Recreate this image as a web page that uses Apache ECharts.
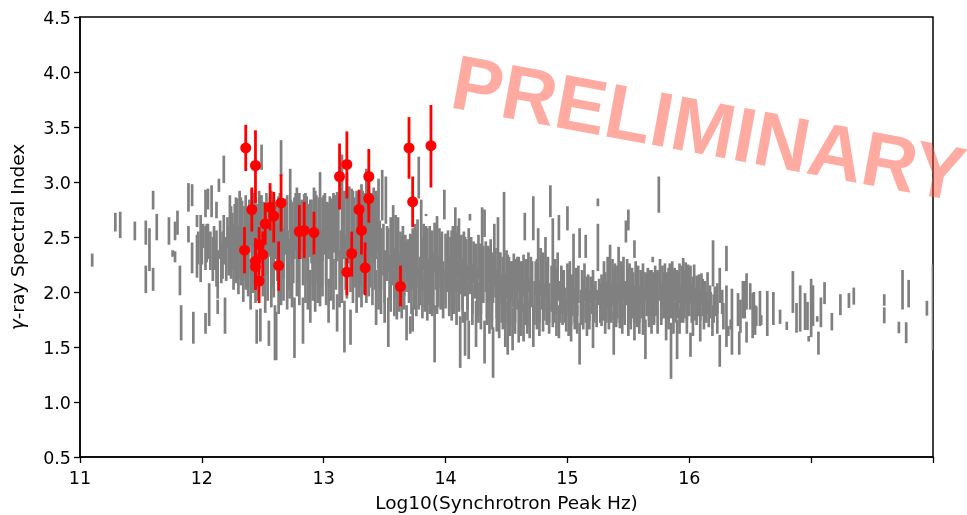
<!DOCTYPE html>
<html><head><meta charset="utf-8">
<style>html,body{margin:0;padding:0;background:#fff}#c{width:967px;height:515px}</style>
<script src="https://cdn.jsdelivr.net/npm/echarts@6/dist/echarts.min.js"></script>
</head><body><div id="c"></div>
<script>
const xTickLabels=['11','12','13','14','15','16','',''];
const xName='Log10(Synchrotron Peak Hz)';
const yName='{i|γ}-ray Spectral Index';
const watermark='PRELIMINARY';
// gray error bars: [log10 peak, index low, index high]
const grayLeft=[[11.10,2.23,2.35],[11.29,2.55,2.72],[11.33,2.49,2.73],[11.45,2.47,2.64],[11.54,2.43,2.65],[11.54,1.99,2.24],[11.57,2.19,2.58],[11.60,2.75,2.92],[11.60,2.01,2.22],[11.63,2.47,2.71],[11.73,2.43,2.68],[11.76,2.32,2.38],[11.78,2.27,2.37],[11.78,2.47,2.64],[11.80,2.52,2.74],[11.82,1.97,2.24],[11.83,1.56,1.88],[11.89,2.45,2.60],[11.89,2.73,2.99],[11.92,2.78,2.98],[11.93,1.53,1.82],[11.92,2.17,2.45],[11.96,2.59,2.70],[11.96,2.13,2.52],[11.99,2.09,2.70],[12.03,1.62,1.81],[12.03,2.68,2.93],[12.05,2.75,2.94],[12.08,2.68,2.97],[12.06,1.69,2.08],[12.12,2.67,2.82],[12.13,1.80,1.93],[12.14,2.91,3.03],[12.18,2.99,3.24],[12.19,1.62,1.95],[12.13,1.94,2.38],[12.00,2.25,2.50],[12.01,2.40,2.62],[12.03,2.20,2.60],[12.05,2.30,2.62],[12.07,2.20,2.55],[12.09,2.10,2.50],[12.10,2.35,2.60],[12.11,2.20,2.48],[12.15,2.30,2.65],[12.16,2.08,2.45],[12.18,2.25,2.70],[12.20,2.10,2.50],[12.21,2.40,2.68],[12.22,2.15,2.60],[11.97,2.25,2.55],[12.04,2.27,2.62],[12.12,2.05,2.56],[12.17,2.12,2.55]];
const grayUpperA=[[12.23,2.35,2.88],[12.25,2.25,2.72],[12.27,2.40,2.80],[12.29,2.30,2.85],[12.31,2.38,2.92],[12.33,2.28,2.83],[12.35,2.42,2.78],[12.37,2.30,2.75],[12.39,2.36,2.84],[12.41,2.25,2.93],[12.43,2.40,2.90],[12.45,2.32,2.80],[12.47,2.45,2.92],[12.49,3.11,3.34],[12.49,2.35,2.88],[12.51,2.28,2.82],[12.53,2.40,2.90],[12.55,2.32,2.78],[12.57,2.26,2.92],[12.59,2.38,2.85],[12.61,2.30,2.80],[12.63,2.34,2.87],[12.65,3.05,3.38],[12.66,2.30,2.83],[12.68,2.40,2.85],[12.70,2.28,2.88],[12.725,2.55,3.12],[12.74,2.35,2.82],[12.76,2.30,2.86],[12.78,2.42,2.95],[12.80,2.32,2.90],[12.82,2.36,2.84],[12.84,2.28,2.89],[12.86,2.40,2.87],[12.88,2.32,2.80],[12.90,2.26,2.84],[12.92,2.38,2.95],[12.94,2.30,2.88],[12.97,2.42,3.09],[12.99,2.28,2.86],[13.01,2.34,2.90],[13.03,2.30,2.82],[13.05,2.38,2.87],[13.07,2.25,2.85],[13.09,2.36,2.88],[13.11,2.28,2.91],[13.15,2.34,3.25],[13.17,2.30,2.92],[13.19,2.38,3.08],[13.21,2.26,2.96],[13.23,2.32,2.94],[13.25,2.40,2.86],[13.27,2.28,2.92],[13.29,2.36,2.88],[13.31,2.30,2.98],[13.33,2.25,2.90],[13.35,2.38,3.12],[13.37,2.28,2.94],[13.39,2.34,2.90],[13.41,2.26,2.95],[13.43,2.30,2.92],[13.45,2.22,3.03]];
const grayLowerA=[[12.24,2.12,2.45],[12.26,2.02,2.40],[12.28,2.08,2.50],[12.30,1.98,2.42],[12.32,2.06,2.48],[12.34,1.91,2.38],[12.36,2.02,2.50],[12.38,1.96,2.44],[12.40,1.84,2.30],[12.42,1.99,2.45],[12.44,1.90,2.42],[12.45,1.53,1.84],[12.48,1.55,1.85],[12.46,1.92,2.40],[12.50,1.96,2.48],[12.52,1.81,2.36],[12.55,1.51,1.74],[12.54,1.92,2.42],[12.57,1.86,2.46],[12.60,1.38,1.88],[12.61,1.38,1.82],[12.59,1.95,2.40],[12.63,1.80,2.34],[12.65,1.88,2.44],[12.67,1.92,2.42],[12.70,1.84,2.36],[12.72,1.94,2.48],[12.74,1.86,2.40],[12.76,1.40,1.95],[12.78,1.96,2.44],[12.80,1.88,2.36],[12.83,1.53,1.95],[12.85,1.90,2.44],[12.87,1.84,2.38],[12.89,1.72,2.20],[12.91,1.92,2.46],[12.93,1.82,2.34],[12.95,1.90,2.42],[12.97,1.87,2.38],[12.99,1.96,2.44],[13.02,1.88,2.36],[13.04,1.72,2.12],[13.06,1.92,2.42],[13.08,1.84,2.30],[13.11,1.64,1.98],[13.13,1.86,2.38],[13.15,1.90,2.42],[13.17,1.45,1.92],[13.19,1.94,2.36],[13.22,1.52,1.84],[13.24,1.90,2.40],[13.27,1.81,2.34],[13.29,1.95,2.38],[13.31,1.86,2.36],[13.33,1.98,2.42],[13.35,1.90,2.30],[13.37,1.96,2.40],[13.40,1.88,2.34],[13.43,1.70,2.20],[13.45,1.84,2.32]];
const grayFillA=[[12.24,2.30,2.78],[12.26,2.20,2.62],[12.28,2.38,2.86],[12.30,2.12,2.60],[12.32,2.34,2.86],[12.34,2.10,2.55],[12.36,2.40,2.88],[12.38,2.15,2.62],[12.40,2.42,2.82],[12.42,2.14,2.64],[12.44,2.36,2.86],[12.46,2.18,2.66],[12.48,2.40,2.88],[12.50,2.12,2.60],[12.52,2.38,2.80],[12.54,2.16,2.66],[12.56,2.36,2.86],[12.58,2.04,2.56],[12.60,2.32,2.82],[12.62,2.10,2.62],[12.64,2.36,2.90],[12.67,2.12,2.58],[12.69,2.34,2.80],[12.71,2.02,2.56],[12.73,2.34,2.84],[12.75,2.08,2.60],[12.77,2.38,2.90],[12.79,2.04,2.54],[12.81,2.30,2.82],[12.83,2.06,2.60],[12.85,2.36,2.90],[12.87,2.10,2.56],[12.89,2.32,2.84],[12.91,2.06,2.60],[12.93,2.40,2.92],[12.95,2.08,2.54],[12.96,2.30,2.86],[12.98,2.04,2.56],[13.00,2.36,2.88],[13.02,2.06,2.58],[13.04,2.30,2.80],[13.06,2.04,2.54],[13.08,2.36,2.90],[13.10,2.02,2.50],[13.12,2.32,2.86],[13.14,2.06,2.56],[13.16,2.30,2.84],[13.18,2.02,2.52],[13.20,2.34,2.90],[13.22,2.00,2.50],[13.24,2.36,2.92],[13.26,2.04,2.56],[13.28,2.30,2.84],[13.30,2.06,2.52],[13.32,2.34,2.92],[13.34,2.02,2.50],[13.36,2.30,2.88],[13.38,2.04,2.54],[13.40,2.32,2.86],[13.42,2.02,2.48],[13.44,2.36,2.88],[13.46,2.00,2.48]];
const grayUpperB=[[13.46,2.10,2.65],[13.48,2.65,3.11],[13.49,2.15,2.62],[13.51,2.62,3.05],[13.53,2.18,2.58],[13.55,2.10,2.68],[13.57,2.22,2.79],[13.59,2.12,2.70],[13.61,2.16,2.68],[13.63,2.20,2.55],[13.65,2.08,2.60],[13.67,2.18,2.52],[13.69,2.10,2.48],[13.71,2.14,2.53],[13.73,2.05,2.58],[13.75,2.18,2.62],[13.78,2.85,3.23],[13.77,2.12,2.66],[13.80,2.10,2.84],[13.82,2.20,2.62],[13.84,2.69,2.71],[13.85,2.08,2.58],[13.87,2.16,2.60],[13.89,2.10,2.56],[13.91,2.18,2.63],[13.93,2.05,2.69],[13.95,2.15,2.58],[13.97,2.10,2.55],[13.99,2.66,2.93],[14.00,2.08,2.53],[14.02,2.16,2.56],[14.04,2.04,2.50],[14.06,2.12,2.60],[14.08,2.05,2.77],[14.10,2.14,2.60],[14.11,2.08,2.67],[14.13,2.00,2.52],[14.15,2.12,2.55],[14.17,2.04,2.48],[14.20,2.65,2.71],[14.19,2.10,2.58],[14.21,2.02,2.50],[14.23,2.08,2.46],[14.25,2.00,2.44],[14.27,2.12,2.52],[14.30,2.05,2.77],[14.32,2.50,2.75],[14.33,2.00,2.46],[14.35,2.08,2.42],[14.37,1.98,2.48],[14.40,2.05,2.62],[14.41,1.95,2.40],[14.43,2.02,2.68],[14.45,1.96,2.36],[14.48,2.05,2.91],[14.50,1.94,2.38],[14.52,2.00,2.32],[14.54,1.92,2.28],[14.56,2.02,2.35],[14.58,1.95,2.30],[14.60,2.00,2.32],[14.62,1.90,2.28],[14.65,2.47,2.72],[14.64,1.96,2.34],[14.66,1.90,2.30],[14.68,2.00,2.36],[14.70,1.92,2.32],[14.72,2.47,2.87],[14.74,1.98,2.28],[14.76,1.90,2.58],[14.78,1.96,2.40],[14.80,1.88,2.36],[14.82,1.94,2.50],[14.84,1.90,2.32],[14.86,2.68,2.97],[14.88,1.94,2.67],[14.90,1.88,2.30],[14.93,2.47,2.70],[14.92,1.92,2.36],[14.95,1.85,2.24],[14.97,1.92,2.20],[15.00,2.56,2.78],[15.00,1.88,2.26],[15.02,1.94,2.28],[15.05,1.90,2.53],[15.07,1.86,2.22],[15.10,2.31,2.58],[15.09,1.90,2.24],[15.12,1.84,2.20],[15.15,2.31,2.52],[15.14,1.92,2.26],[15.17,1.86,2.16],[15.19,1.90,2.14],[15.21,1.84,2.20],[15.23,1.92,2.10],[15.25,2.78,2.85],[15.25,2.19,2.62],[15.26,1.88,2.12],[15.28,1.84,2.16],[15.30,1.90,2.28],[15.33,1.86,2.32],[15.35,1.92,2.43],[15.37,1.88,2.30],[15.39,1.84,2.26],[15.42,1.90,2.41],[15.44,1.86,2.28],[15.46,1.92,2.32],[15.48,2.45,2.65],[15.50,2.56,2.75],[15.49,1.88,2.30],[15.51,1.84,2.26],[15.53,1.90,2.22],[15.55,2.31,2.47],[15.56,1.86,2.28],[15.58,1.92,2.24],[15.60,1.88,2.20],[15.62,1.86,2.26],[15.64,1.92,2.18],[15.66,1.84,2.22],[15.68,1.90,2.20],[15.70,2.27,2.32],[15.70,1.86,2.18],[15.72,1.90,2.24],[15.75,2.72,3.05],[15.74,1.88,2.20],[15.76,1.92,2.30],[15.78,1.86,2.24],[15.80,1.90,2.26],[15.82,1.84,2.18],[15.84,1.90,2.26],[15.86,1.88,2.28],[15.88,1.92,2.22],[15.90,1.84,2.20],[15.92,1.90,2.26],[15.94,1.86,2.24],[15.95,1.92,2.31],[15.97,1.88,2.27],[15.99,1.84,2.25],[16.01,1.90,2.24],[16.04,1.86,2.25],[16.06,1.90,2.15],[16.08,1.80,2.16],[16.10,1.88,2.17],[16.13,1.84,2.10],[16.15,1.80,2.18],[16.175,1.88,2.00],[16.195,2.05,2.47],[16.21,1.78,2.05],[16.25,1.90,2.22],[16.27,1.80,2.02],[16.305,2.19,2.42],[16.305,1.50,2.06]];
const grayLowerB=[[13.47,1.80,2.20],[13.50,1.72,2.24],[13.53,1.50,1.95],[13.55,1.82,2.22],[13.58,1.78,2.16],[13.60,1.75,2.18],[13.62,1.82,2.25],[13.64,1.76,2.14],[13.66,1.84,2.20],[13.68,1.56,1.88],[13.71,1.62,1.78],[13.72,1.80,2.16],[13.73,1.64,1.86],[13.76,1.78,2.20],[13.78,1.84,2.22],[13.81,1.76,2.14],[13.83,1.82,2.18],[13.85,1.74,2.12],[13.87,1.80,2.16],[13.89,1.78,2.18],[13.91,1.36,1.88],[13.93,1.80,2.14],[13.96,1.84,2.18],[13.98,1.76,2.12],[14.00,1.85,2.20],[14.03,1.78,2.12],[14.05,1.74,2.08],[14.07,1.80,2.16],[14.09,1.70,2.10],[14.12,1.31,1.78],[14.14,1.72,2.12],[14.16,1.42,1.82],[14.18,1.74,2.08],[14.19,1.39,1.74],[14.22,1.70,2.06],[14.25,1.50,1.92],[14.27,1.72,2.08],[14.29,1.66,2.04],[14.32,1.35,1.74],[14.34,1.70,2.08],[14.36,1.62,2.02],[14.39,1.22,1.68],[14.38,1.66,2.04],[14.42,1.64,2.00],[14.44,1.58,1.98],[14.47,1.66,2.02],[14.49,1.50,1.92],[14.51,1.43,1.88],[14.53,1.60,1.98],[14.55,1.47,1.86],[14.57,1.62,1.96],[14.60,1.54,1.94],[14.62,1.60,1.92],[14.64,1.55,1.90],[14.67,1.62,1.96],[14.69,1.58,1.92],[14.72,1.50,1.88],[14.75,1.66,1.98],[14.77,1.60,1.92],[14.80,1.64,1.94],[14.83,1.70,1.98],[14.85,1.62,1.90],[14.88,1.68,1.94],[14.91,1.60,1.92],[14.93,1.58,1.88],[14.96,1.70,1.94],[14.99,1.64,1.92],[15.01,1.60,1.90],[15.03,1.55,1.86],[15.06,1.66,1.92],[15.08,1.62,1.88],[15.10,1.34,1.72],[15.13,1.66,1.90],[15.16,1.60,1.92],[15.18,1.66,1.88],[15.21,1.49,1.80],[15.24,1.68,1.90],[15.28,1.69,1.92],[15.31,1.62,1.90],[15.34,1.66,1.88],[15.38,1.43,1.82],[15.40,1.68,1.92],[15.43,1.67,1.90],[15.45,1.62,1.88],[15.47,1.70,1.92],[15.50,1.60,1.90],[15.52,1.66,1.88],[15.55,1.56,1.86],[15.57,1.68,1.92],[15.59,1.62,1.88],[15.62,1.61,1.90],[15.64,1.39,1.75],[15.67,1.68,1.92],[15.69,1.62,1.90],[15.71,1.70,1.92],[15.74,1.62,1.88],[15.77,1.70,1.92],[15.81,1.56,1.88],[15.83,1.66,1.92],[15.85,1.21,1.72],[15.87,1.62,1.90],[15.90,1.39,1.75],[15.92,1.62,1.86],[15.95,1.72,1.94],[15.98,1.62,1.92],[16.01,1.41,1.63],[16.03,1.60,1.90],[16.06,1.70,1.92],[16.09,1.55,1.86],[16.12,1.66,1.88],[16.16,1.68,1.92],[16.19,1.60,1.88],[16.23,1.62,1.90],[16.25,1.32,1.61],[16.28,1.66,1.90]];
const grayFillB=[[13.47,2.02,2.58],[13.50,1.90,2.38],[13.52,2.10,2.60],[13.54,1.92,2.34],[13.56,2.06,2.62],[13.58,1.94,2.40],[13.60,2.08,2.58],[13.62,1.90,2.36],[13.64,2.04,2.50],[13.66,1.96,2.42],[13.68,2.00,2.46],[13.70,1.90,2.32],[13.72,2.02,2.52],[13.74,1.84,2.30],[13.76,2.04,2.56],[13.79,1.88,2.32],[13.81,2.02,2.50],[13.83,1.86,2.34],[13.84,2.04,2.60],[13.86,1.88,2.30],[13.88,2.00,2.52],[13.90,1.84,2.36],[13.92,2.02,2.56],[13.94,1.86,2.32],[13.96,2.04,2.50],[13.98,1.90,2.28],[14.01,2.00,2.50],[14.03,1.84,2.34],[14.05,1.98,2.56],[14.07,1.86,2.30],[14.09,2.00,2.54],[14.11,1.82,2.24],[14.12,1.98,2.48],[14.14,1.84,2.30],[14.16,1.96,2.50],[14.18,1.84,2.24],[14.20,1.98,2.46],[14.22,1.80,2.26],[14.24,1.94,2.40],[14.26,1.78,2.22],[14.28,1.94,2.44],[14.29,1.80,2.28],[14.31,1.90,2.42],[14.34,1.76,2.22],[14.36,1.92,2.40],[14.38,1.74,2.18],[14.39,1.90,2.36],[14.42,1.76,2.20],[14.44,1.88,2.36],[14.46,1.72,2.16],[14.47,1.88,2.32],[14.49,1.72,2.16],[14.51,1.84,2.34],[14.53,1.70,2.12],[14.55,1.86,2.28],[14.57,1.72,2.14],[14.59,1.84,2.32],[14.61,1.68,2.10],[14.63,1.82,2.28],[14.65,1.70,2.12],[14.67,1.84,2.30],[14.69,1.68,2.12],[14.71,1.86,2.28],[14.73,1.70,2.10],[14.75,1.82,2.30],[14.77,1.72,2.10],[14.79,1.84,2.26],[14.81,1.74,2.08],[14.83,1.82,2.28],[14.85,1.72,2.08],[14.87,1.82,2.24],[14.89,1.72,2.06],[14.91,1.80,2.22],[14.94,1.72,2.10],[14.96,1.80,2.20],[14.98,1.72,2.04],[15.01,1.78,2.20],[15.03,1.70,2.02],[15.04,1.78,2.16],[15.06,1.72,2.04],[15.08,1.78,2.18],[15.11,1.70,2.02],[15.13,1.76,2.12],[15.15,1.72,2.04],[15.16,1.78,2.14],[15.18,1.74,2.02],[15.20,1.80,2.10],[15.22,1.72,2.06],[15.24,1.76,2.02],[15.27,1.72,2.08],[15.29,1.74,2.12],[15.31,1.78,2.18],[15.32,1.72,2.10],[15.34,1.76,2.22],[15.36,1.72,2.08],[15.38,1.74,2.20],[15.40,1.72,2.06],[15.41,1.76,2.24],[15.43,1.72,2.08],[15.45,1.78,2.24],[15.47,1.74,2.10],[15.50,1.76,2.22],[15.52,1.72,2.08],[15.54,1.76,2.18],[15.55,1.72,2.06],[15.57,1.78,2.22],[15.59,1.72,2.06],[15.61,1.76,2.18],[15.63,1.72,2.04],[15.65,1.78,2.16],[15.67,1.74,2.08],[15.69,1.78,2.20],[15.71,1.72,2.06],[15.73,1.78,2.18],[15.77,1.74,2.08],[15.79,1.76,2.18],[15.81,1.76,2.08],[15.83,1.74,2.22],[15.85,1.76,2.10],[15.87,1.74,2.20],[15.89,1.72,2.08],[15.91,1.76,2.18],[15.93,1.72,2.06],[15.96,1.76,2.20],[15.98,1.74,2.10],[16.00,1.78,2.22],[16.02,1.72,2.08],[16.03,1.80,2.14],[16.05,1.74,2.04],[16.07,1.78,2.10],[16.09,1.74,2.02],[16.11,1.78,2.12],[16.14,1.72,2.00],[16.17,1.76,2.06],[16.20,1.72,1.98],[16.23,1.80,2.08]];
const grayRight=[[16.32,1.60,1.69],[16.34,1.66,1.75],[16.35,1.43,2.03],[16.41,1.43,1.64],[16.40,1.69,1.99],[16.42,1.63,1.93],[16.44,1.76,2.10],[16.455,1.76,2.10],[16.47,1.54,1.73],[16.47,1.84,2.17],[16.50,1.84,2.08],[16.52,1.58,1.99],[16.53,1.77,2.00],[16.54,1.61,1.88],[16.58,1.69,2.01],[16.55,1.69,1.87],[16.59,1.70,1.79],[16.64,1.60,2.01],[16.69,1.70,2.00],[16.745,1.71,1.84],[16.80,1.655,1.73],[16.85,1.81,2.19],[16.88,1.63,1.90],[16.91,1.64,2.06],[16.95,1.655,1.99],[16.97,1.655,1.91],[16.98,1.55,1.60],[17.00,1.59,2.12],[17.015,1.69,2.06],[17.05,1.73,1.78],[17.06,1.43,1.64],[17.08,1.68,1.95],[17.11,1.89,2.09],[17.17,1.65,1.81],[17.24,1.79,1.98],[17.31,1.855,1.99],[17.35,1.885,2.04],[17.60,1.875,1.98],[17.60,1.715,1.86],[17.72,1.625,1.73],[17.75,1.84,2.20],[17.78,1.535,1.725],[17.80,1.86,2.11],[17.95,1.785,1.92],[18.00,1.47,2.25]];
// red points: [log10 peak, index, low, high]
const redPoints=[[12.36,3.31,3.10,3.52],[12.44,3.15,2.81,3.47],[12.41,2.75,2.55,2.95],[12.35,2.38,2.17,2.59],[12.44,2.28,2.02,2.49],[12.44,2.23,2.02,2.45],[12.47,2.43,2.26,2.59],[12.50,2.34,2.14,2.55],[12.47,2.10,1.90,2.32],[12.52,2.62,2.43,2.81],[12.56,2.77,2.56,2.99],[12.59,2.69,2.45,2.91],[12.65,2.81,2.55,3.07],[12.63,2.24,2.01,2.46],[12.80,2.55,2.30,2.79],[12.84,2.56,2.31,2.82],[12.92,2.54,2.34,2.73],[13.13,3.05,2.75,3.35],[13.19,3.16,2.85,3.46],[13.37,3.05,2.75,3.30],[13.37,2.85,2.63,3.05],[13.29,2.75,2.56,2.93],[13.31,2.56,2.34,2.75],[13.23,2.35,2.14,2.55],[13.19,2.18,1.97,2.31],[13.34,2.22,1.97,2.45],[13.63,2.05,1.87,2.24],[13.70,3.31,3.03,3.59],[13.88,3.33,2.95,3.70],[13.73,2.82,2.59,3.05]];

const grayBars=[].concat(grayLeft,grayUpperA,grayLowerA,grayFillA,grayUpperB,grayLowerB,grayFillB,grayRight);
const FONT='"DejaVu Sans"';
const vbar=(color,w)=>(p,api)=>{
  const a=api.coord([api.value(0),api.value(1)]),b=api.coord([api.value(0),api.value(2)]);
  return {type:'line',shape:{x1:a[0],y1:a[1],x2:b[0],y2:b[1]},style:{stroke:color,lineWidth:w,lineCap:'butt'}};
};
const chart=echarts.init(document.getElementById('c'),null,{renderer:'canvas'});
chart.setOption({
  animation:false,backgroundColor:'#fff',
  grid:{left:80,right:34,top:17,bottom:58,outerBoundsMode:'none',containLabel:false,show:true,borderColor:'#000',borderWidth:1.5,backgroundColor:'transparent'},
  xAxis:{type:'value',min:11,max:18,interval:1,splitLine:{show:false},
    name:xName,nameLocation:'middle',nameGap:38,nameTextStyle:{fontFamily:FONT,fontSize:18.5,color:'#000'},
    axisLine:{show:true,onZero:false,lineStyle:{color:'#000',width:1.5}},axisTick:{show:true,length:6,lineStyle:{color:'#000',width:1.3}},
    axisLabel:{fontFamily:FONT,fontSize:17.5,color:'#000',margin:13,showMinLabel:true,showMaxLabel:true,hideOverlap:false,formatter:(v)=>xTickLabels[Math.round(v-11)]}},
  yAxis:{type:'value',min:0.5,max:4.5,interval:0.5,splitLine:{show:false},
    name:yName,nameLocation:'middle',nameGap:51,nameRotate:90,nameTextStyle:{fontFamily:FONT,fontSize:18.5,color:'#000',rich:{i:{fontFamily:FONT,fontStyle:'italic',fontSize:18.5,color:'#000'}}},
    axisLine:{show:true,onZero:false,lineStyle:{color:'#000',width:1.5}},axisTick:{show:true,length:6,lineStyle:{color:'#000',width:1.3}},
    axisLabel:{fontFamily:FONT,fontSize:17.5,color:'#000',margin:9,formatter:(v)=>'{a|'+v.toFixed(1)+'}',rich:{a:{fontFamily:FONT,fontSize:17.5,color:'#000',padding:[4,0,0,0]}}}},
  series:[
    {type:'custom',name:'gray',coordinateSystem:'cartesian2d',clip:true,silent:true,z:2,data:grayBars,encode:{x:0,y:[1,2]},renderItem:vbar('#808080',2.7)},
    {type:'custom',name:'redbars',coordinateSystem:'cartesian2d',clip:true,silent:true,z:3,data:redPoints.map(r=>[r[0],r[2],r[3]]),encode:{x:0,y:[1,2]},renderItem:vbar('#ff0000',2.8)},
    {type:'scatter',name:'red',symbol:'circle',symbolSize:11,z:4,silent:true,itemStyle:{color:'#ff0000',opacity:1},data:redPoints.map(r=>[r[0],r[1]])}
  ],
  graphic:[{type:'text',z:100,x:445,y:124,rotation:-0.183,scaleX:0.985,silent:true,style:{text:watermark,font:'bold 77px "Liberation Sans"',fill:'rgba(255,80,60,0.48)',align:'left',verticalAlign:'bottom'}}]
});
</script></body></html>
